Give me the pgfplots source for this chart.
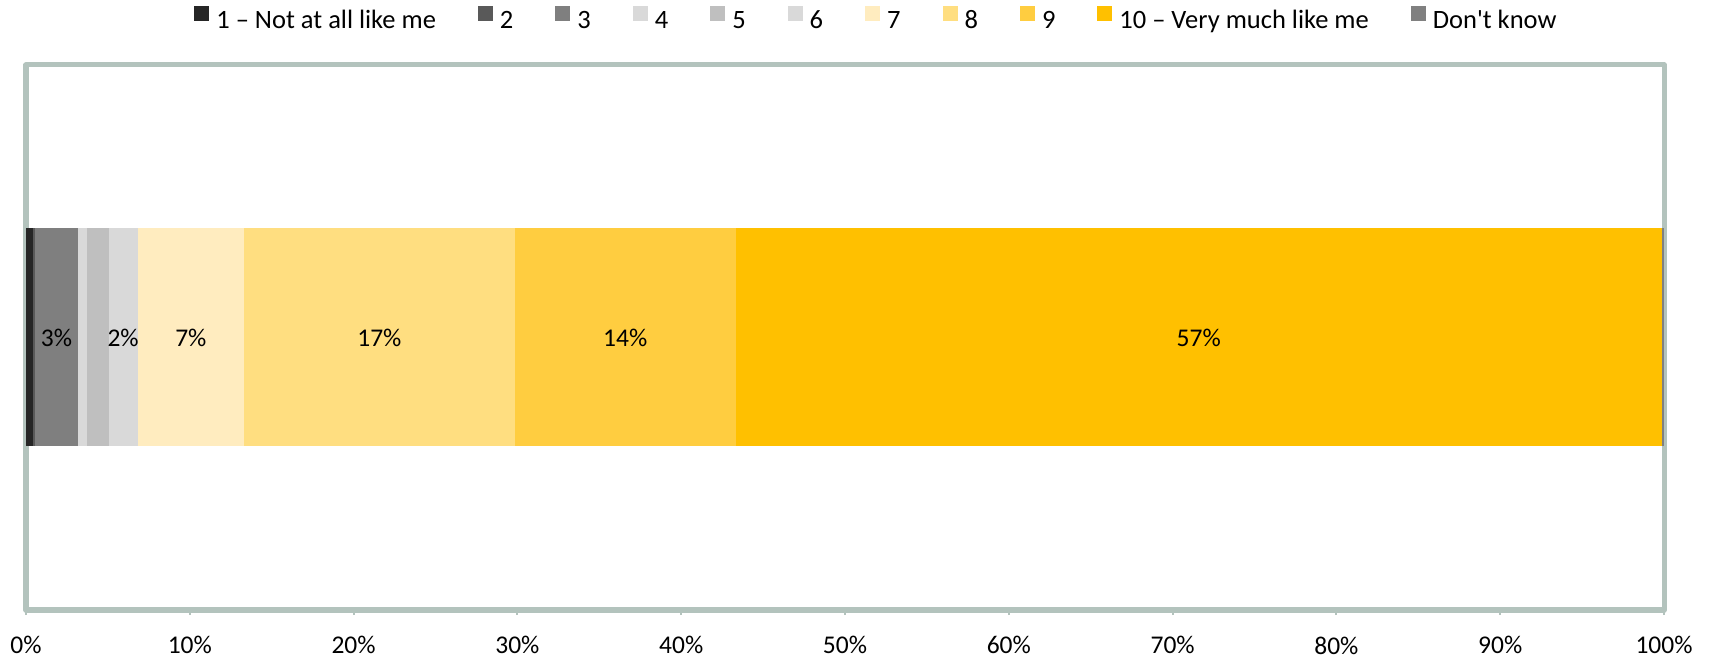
\documentclass[border=0pt]{standalone}
\usepackage{fontspec}
\setmainfont{Carlito}[Ligatures=TeXOff]
\usepackage{pgfplots}
\pgfplotsset{compat=1.18}
\usetikzlibrary{calc}

% segment colours, from darkest grey to full gold
\definecolor{c1}{HTML}{262626}
\definecolor{c2}{HTML}{595959}
\definecolor{c3}{HTML}{7F7F7F}
\definecolor{c4}{HTML}{D9D9D9}
\definecolor{c5}{HTML}{BFBFBF}
\definecolor{c6}{HTML}{D9D9D9}
\definecolor{c7}{HTML}{FFECBF}
\definecolor{c8}{HTML}{FFDE80}
\definecolor{c9}{HTML}{FFCD40}
\definecolor{c10}{HTML}{FFC000}
\definecolor{cdk}{HTML}{808080}
\definecolor{framecol}{HTML}{B3C3BD}

\newcommand{\chartfont}{\fontsize{12.8}{15}\selectfont}
\newcommand{\legendfont}{\fontsize{13.3}{15}\selectfont}

\pgfplotsset{
  seglabel/.style={
    point meta=rawx,
    nodes near coords={\pgfmathprintnumber[fixed,precision=0]{\pgfplotspointmeta}\%},
    every node near coord/.append style={anchor=center, font=\chartfont, text=black},
  },
}

\begin{document}
\begin{tikzpicture}
\begin{axis}[
  scale only axis, width=819bp, height=272.5bp,
  xbar stacked, bar width=0.8,
  xmin=0, xmax=100, ymin=-1, ymax=1,
  ytick=\empty,
  xtick={0,10,...,100},
  xtick pos=bottom,
  xticklabel={\pgfmathprintnumber{\tick}\%},
  /pgf/number format/assume math mode=true,
  tick label style={font=\chartfont},
  xticklabel style={anchor=north, inner sep=0pt, yshift=-10.6bp},
  tick align=outside, major tick length=2.5bp,
  tick style={draw=framecol, line width=1bp},
  axis line style={draw=framecol, line width=2.5bp, line join=round},
  legend style={at={(0.5186,1.0846)}, anchor=center, draw=none, fill=none,
    font=\legendfont, inner sep=0pt, nodes={inner sep=0pt},
    /tikz/every even column/.append style={column sep=21bp},
    /tikz/every odd column/.append style={column sep=3.5bp}},
  legend columns=-1,
  legend image code/.code={\fill[#1, draw=none] (0bp,0bp) rectangle (7.5bp,7.5bp);},
]
\addplot[fill=c1, draw=none] coordinates {(0.4,0)};
\addplot[fill=c2, draw=none] coordinates {(0.16,0)};
\addplot[fill=c3, draw=none, seglabel] coordinates {(2.6,0)};
\addplot[fill=c4, draw=none] coordinates {(0.55,0)};
\addplot[fill=c5, draw=none] coordinates {(1.34,0)};
\addplot[fill=c6, draw=none, seglabel] coordinates {(1.76,0)};
\addplot[fill=c7, draw=none, seglabel] coordinates {(6.51,0)};
\addplot[fill=c8, draw=none, seglabel] coordinates {(16.51,0)};
\addplot[fill=c9, draw=none, seglabel] coordinates {(13.51,0)};
\addplot[fill=c10, draw=none, seglabel] coordinates {(56.51,0)};
\addplot[fill=cdk, draw=none] coordinates {(0.15,0)};
\legend{1 – Not at all like me, 2, 3, 4, 5, 6, 7, 8, 9, 10 – Very much like me, Don't know}
\end{axis}
\pgfresetboundingbox
\path[use as bounding box] ($(current axis.south west)+(-13bp,-24bp)$) rectangle ($(current axis.north east)+(23.5bp,32.5bp)$);
\end{tikzpicture}
\end{document}
